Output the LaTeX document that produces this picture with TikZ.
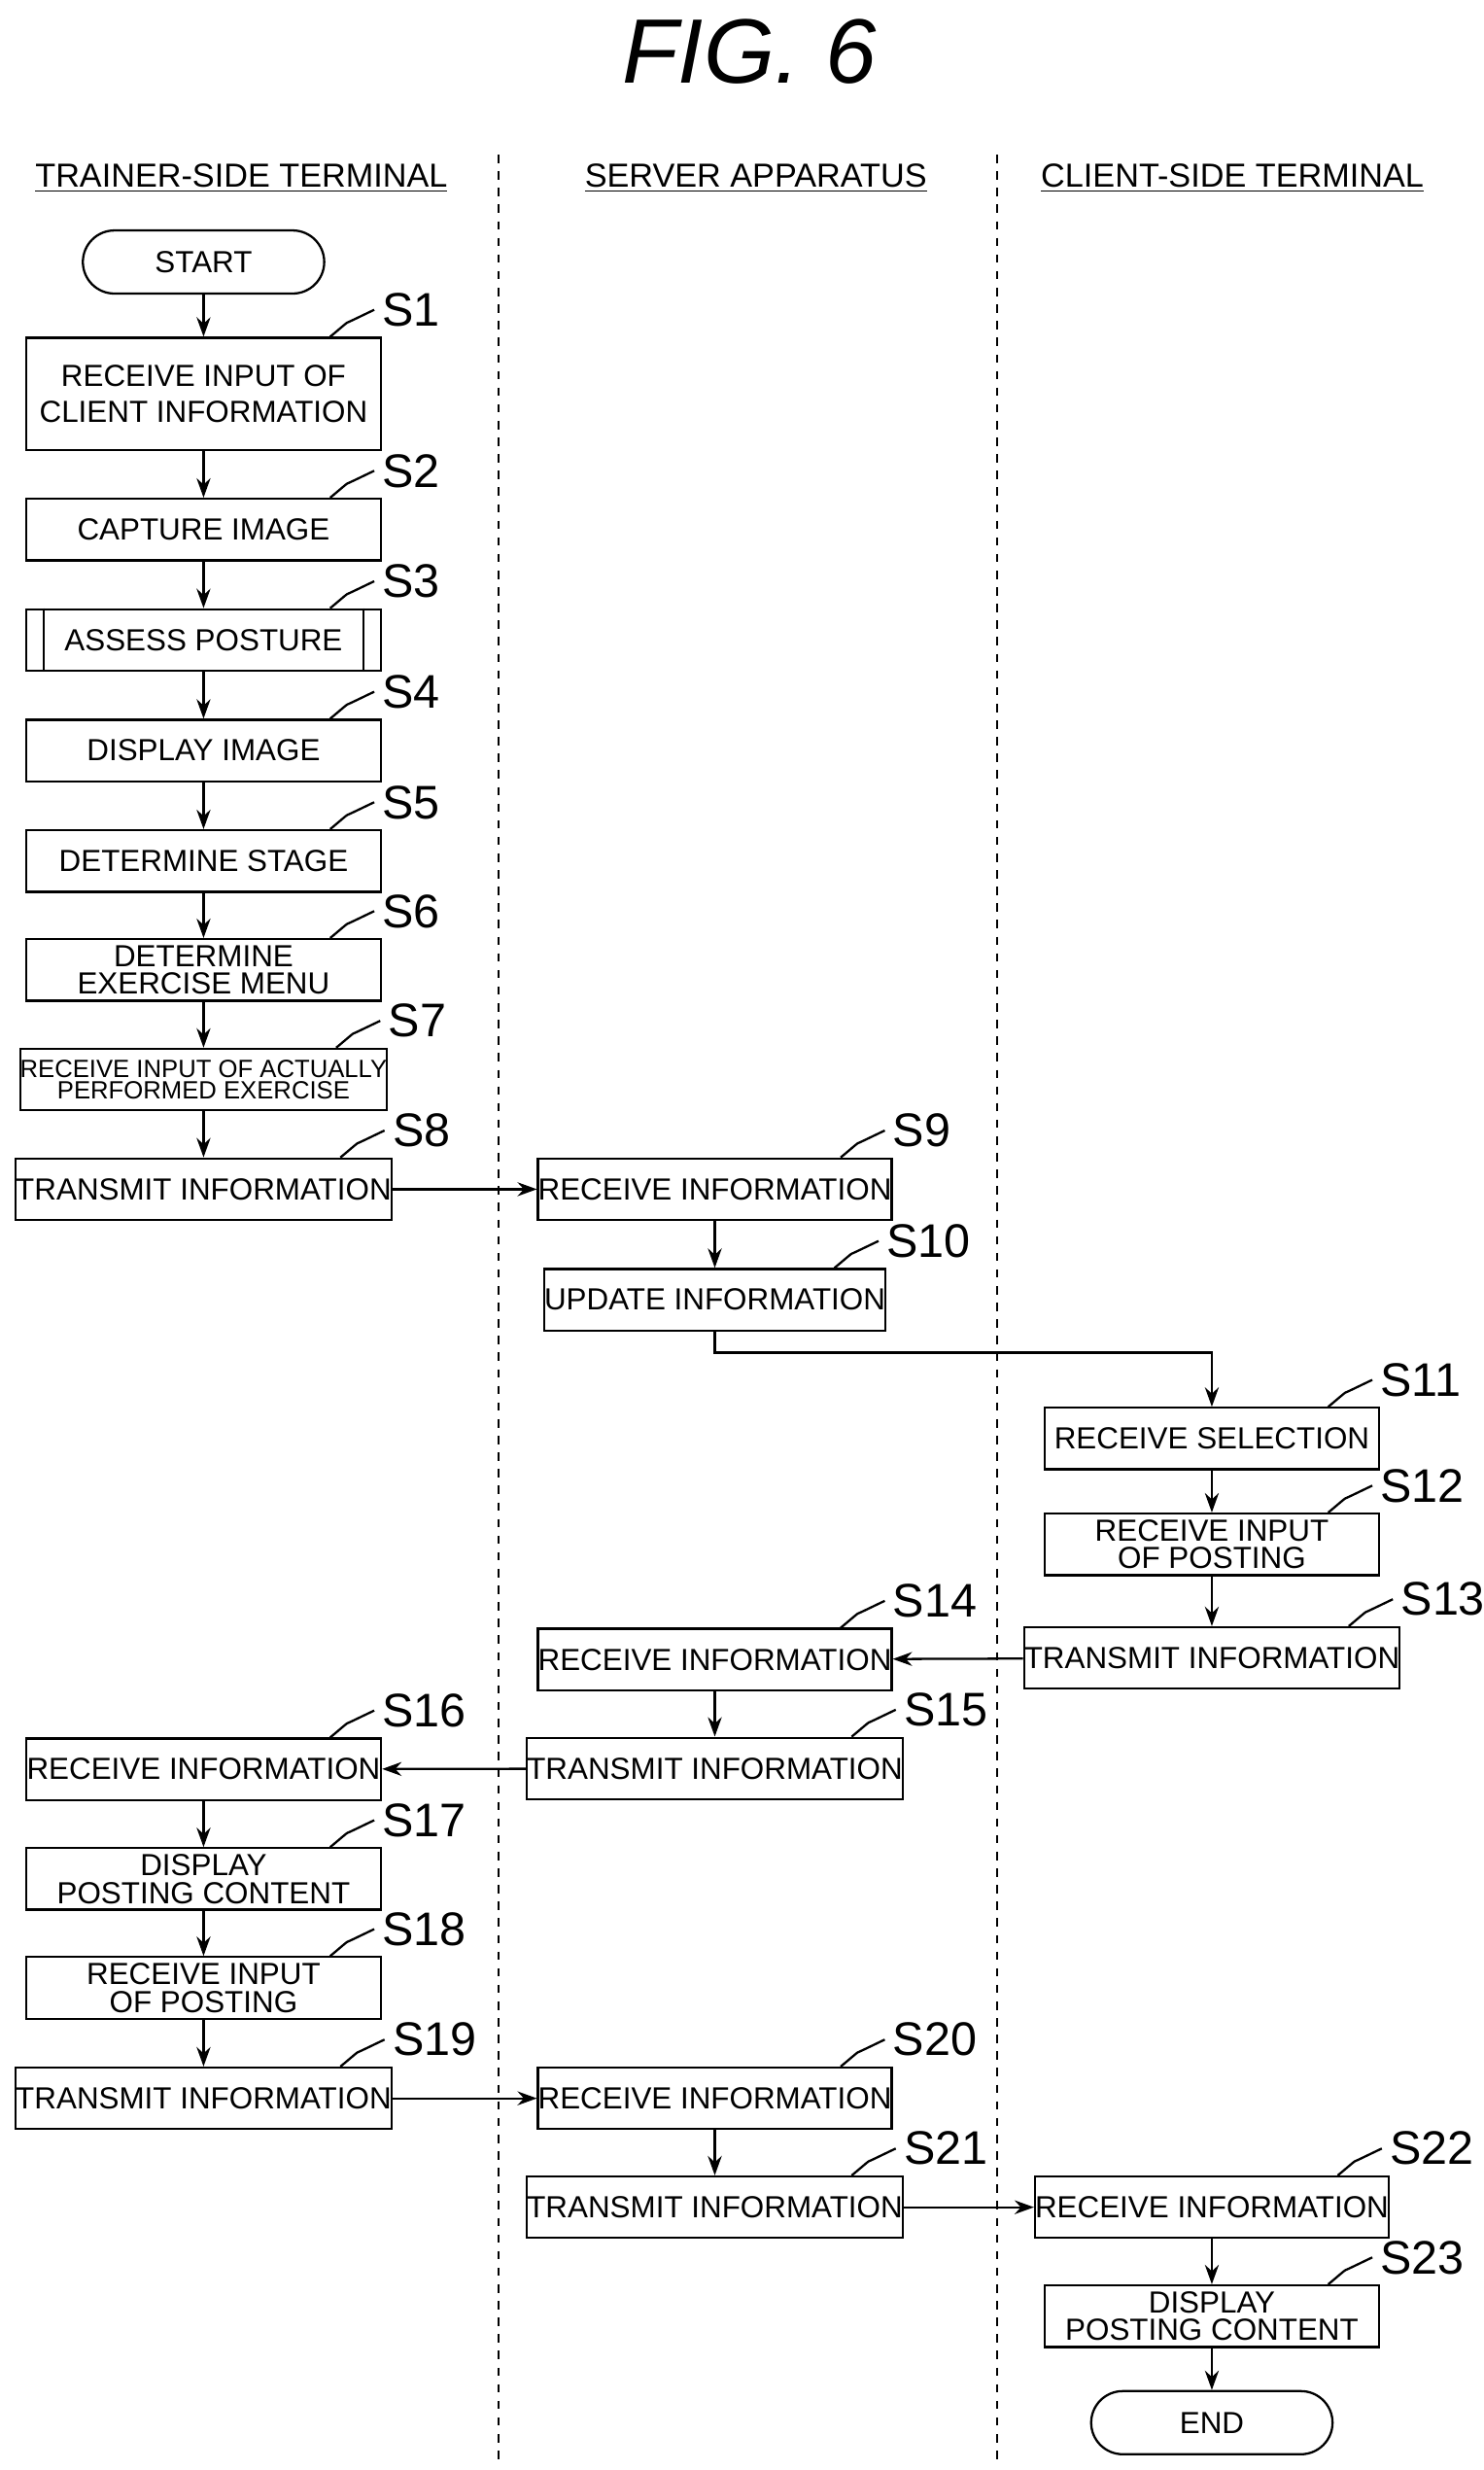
\documentclass[tikz,border=0pt]{standalone}
\usepackage{fontspec}
\setmainfont{Liberation Sans}
\usetikzlibrary{arrows.meta}
\newcommand\steplabel[2]{%
  \draw[thick] ([xshift=-0.66cm]#1.north east) .. controls +(0.25,0.1) and +(-0.2,-0.2) .. ([xshift=-0.44cm,yshift=0.18cm]#1.north east) .. controls +(0.15,0.15) and +(-0.15,-0.05) .. ([xshift=-0.1cm,yshift=0.34cm]#1.north east);
  \node[anchor=west, font=\fontsize{17}{17}\selectfont] at ([xshift=-0.12cm,yshift=0.34cm]#1.north east) {#2};}
\begin{document}
\begin{tikzpicture}[x=0.02cm, y=-0.02cm,font=\fontsize{11}{10}\selectfont,
  box/.style={draw, thick, minimum width=4.5cm, minimum height=0.78cm, inner sep=0pt, align=center},
  sbox/.style={box, minimum width=4.24cm},
  term/.style={draw, thick, rounded corners=0.4cm, minimum width=3.06cm, minimum height=0.8cm},
  flow/.style={-{Stealth[length=7pt,width=5pt]}, thick},
  lane/.style={dashed, thick}]
\useasboundingbox (0,0) rectangle (940,1565);

\node[font=\fontsize{33}{33}\selectfont\itshape] at (475,33) {FIG. 6};
\draw[lane] (316,98) -- (316,1560);
\draw[lane] (632,98) -- (632,1560);
\node[font=\fontsize{12}{12}\selectfont] (hA) at (153,113) {\underline{TRAINER-SIDE TERMINAL}};
\node[font=\fontsize{12}{12}\selectfont] (hB) at (479,113) {\underline{SERVER APPARATUS}};
\node[font=\fontsize{12}{12}\selectfont] (hC) at (781,113) {\underline{CLIENT-SIDE TERMINAL}};

% trainer side
\node[term] (start) at (129,166) {START};
\node[box, minimum height=1.42cm] (s1) at (129,249.5) {RECEIVE INPUT OF\\[3pt]CLIENT INFORMATION};
\node[box] (s2) at (129,335.5) {CAPTURE IMAGE};
\node[box] (s3) at (129,405.5) {ASSESS POSTURE};
\draw[thick] ([xshift=0.24cm]s3.north west) -- ([xshift=0.24cm]s3.south west);
\draw[thick] ([xshift=-0.24cm]s3.north east) -- ([xshift=-0.24cm]s3.south east);
\node[box] (s4) at (129,475.5) {DISPLAY IMAGE};
\node[box] (s5) at (129,545.5) {DETERMINE STAGE};
\node[box] (s6) at (129,614.5) {DETERMINE\\EXERCISE MENU};
\node[box, font=\fontsize{9}{8}\selectfont] (s7) at (129,684) {RECEIVE INPUT OF ACTUALLY\\PERFORMED EXERCISE};
\node[box] (s8) at (129,753.5) {TRANSMIT INFORMATION};
\node[box] (s16) at (129,1121) {RECEIVE INFORMATION};
\node[box] (s17) at (129,1190.5) {DISPLAY\\POSTING CONTENT};
\node[box] (s18) at (129,1259.5) {RECEIVE INPUT\\OF POSTING};
\node[box] (s19) at (129,1329.5) {TRANSMIT INFORMATION};

% server
\node[sbox] (s9) at (453,753.5) {RECEIVE INFORMATION};
\node[sbox] (s10) at (453,823.5) {UPDATE INFORMATION};
\node[sbox] (s14) at (453,1051.5) {RECEIVE INFORMATION};
\node[sbox] (s15) at (453,1120.5) {TRANSMIT INFORMATION};
\node[sbox] (s20) at (453,1329.5) {RECEIVE INFORMATION};
\node[sbox] (s21) at (453,1398.5) {TRANSMIT INFORMATION};

% client side
\node[sbox] (s11) at (768,911.5) {RECEIVE SELECTION};
\node[sbox] (s12) at (768,978.5) {RECEIVE INPUT\\OF POSTING};
\node[sbox] (s13) at (768,1050.5) {TRANSMIT INFORMATION};
\node[sbox] (s22) at (768,1398.5) {RECEIVE INFORMATION};
\node[sbox] (s23) at (768,1467.5) {DISPLAY\\POSTING CONTENT};
\node[term] (end) at (768,1535) {END};

\foreach \a/\b in {start/s1,s1/s2,s2/s3,s3/s4,s4/s5,s5/s6,s6/s7,s7/s8,s8/s9,s9/s10,
  s11/s12,s12/s13,s13/s14,s14/s15,s15/s16,s16/s17,s17/s18,s18/s19,s19/s20,s20/s21,s21/s22,s22/s23,s23/end}
  \draw[flow] (\a) -- (\b);
\draw[flow] (s10.south) |- (768,857) -- (s11.north);

\foreach \n/\t in {s1/S1,s2/S2,s3/S3,s4/S4,s5/S5,s6/S6,s7/S7,s8/S8,s9/S9,s10/S10,s11/S11,s12/S12,
  s13/S13,s14/S14,s15/S15,s16/S16,s17/S17,s18/S18,s19/S19,s20/S20,s21/S21,s22/S22,s23/S23}
  {\steplabel{\n}{\t}}
\end{tikzpicture}
\end{document}
